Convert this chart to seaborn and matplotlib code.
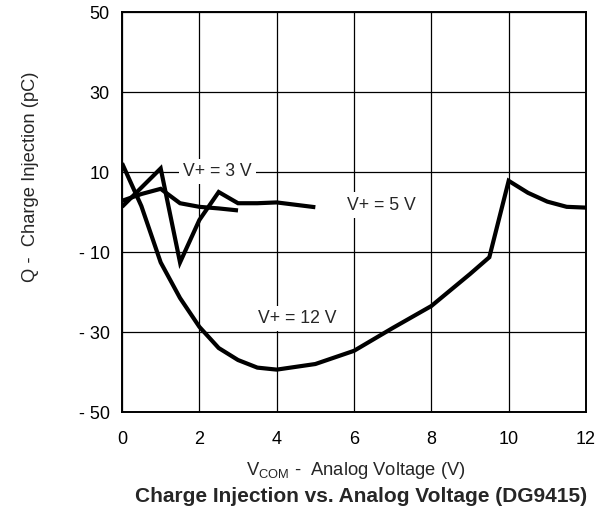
import matplotlib
matplotlib.use("Agg")
import matplotlib.pyplot as plt
import seaborn as sns
import pandas as pd

# Charge injection curves, one per supply voltage
x_3v = [0, 0.5, 1.0, 1.5, 2.0, 2.5, 3.0]
q_3v = [2.8, 4.5, 5.8, 2.2, 1.3, 0.9, 0.4]

x_5v = [0, 1.0, 1.5, 2.0, 2.5, 3.0, 3.5, 4.0, 4.5, 5.0]
q_5v = [1.3, 10.9, -12.6, -2.0, 5.0, 2.2, 2.2, 2.4, 1.8, 1.2]

x_12v = [0, 0.5, 1.0, 1.5, 2.0, 2.5, 3.0, 3.5, 4.0, 5.0, 6.0, 7.0, 8.0,
         9.0, 9.5, 10.0, 10.5, 11.0, 11.5, 12.0]
q_12v = [12.2, 1.5, -12.6, -21.5, -28.7, -34.0, -37.0, -38.9, -39.4, -38.0,
         -34.7, -29.0, -23.5, -15.5, -11.3, 7.8, 4.8, 2.6, 1.3, 1.1]

x_ticks = [0, 2, 4, 6, 8, 10, 12]
y_ticks = [-50, -30, -10, 10, 30, 50]
y_tick_labels = ["- 50", "- 30", "- 10", "10", "30", "50"]

series_labels = ["V+ = 3 V", "V+ = 5 V", "V+ = 12 V"]

df = pd.concat([
    pd.DataFrame({"V": x_3v, "Q": q_3v, "supply": series_labels[0]}),
    pd.DataFrame({"V": x_5v, "Q": q_5v, "supply": series_labels[1]}),
    pd.DataFrame({"V": x_12v, "Q": q_12v, "supply": series_labels[2]}),
])

sns.set_style("white")
plt.rcParams["font.family"] = ["Liberation Sans", "DejaVu Sans"]
plt.rcParams["mathtext.fontset"] = "custom"
plt.rcParams["mathtext.rm"] = "Liberation Sans"

fig = plt.figure(figsize=(6.08, 5.23), dpi=100)
ax = fig.add_axes([0.2007, 0.2122, 0.7631, 0.7648])

sns.lineplot(data=df, x="V", y="Q", hue="supply", sort=False,
             palette=["black"] * 3, linewidth=3.0, legend=False, ax=ax,
             solid_joinstyle="miter", solid_capstyle="butt", zorder=3)

ax.set_xlim(0, 12)
ax.set_ylim(-50, 50)
ax.set_xticks(x_ticks)
ax.set_yticks(y_ticks)
ax.set_yticklabels(y_tick_labels)
ax.tick_params(axis="both", length=0, labelsize=13, colors="black")
ax.tick_params(axis="x", pad=14)
ax.tick_params(axis="y", pad=9)
ax.grid(True, color="black", linewidth=0.9, zorder=1)
for s in ax.spines.values():
    s.set_color("black")
    s.set_linewidth(1.4)
    s.set_zorder(4)

ax.set_xlabel("V$_{\\rm COM}$ -  Analog Voltage (V)", fontsize=13.2,
              va="center")
ax.xaxis.set_label_coords(0.504, -0.145)
ax.set_ylabel("Q -  Charge Injection (pC)", fontsize=13.2, va="center")
ax.yaxis.set_label_coords(-0.198, 0.5875)

box = dict(facecolor="white", edgecolor="none", pad=3)
label_pos = [(2.46, 10.1), (6.7, 1.75), (4.54, -26.6)]
for (lx, ly), txt in zip(label_pos, series_labels):
    ax.text(lx, ly, txt, fontsize=12.7, ha="center", va="center",
            bbox=box, zorder=2)

fig.text(0.5946, 0.05, "Charge Injection vs. Analog Voltage (DG9415)",
         fontsize=15, fontweight="bold", ha="center", va="center")

fig.savefig("out.png", dpi=100)
